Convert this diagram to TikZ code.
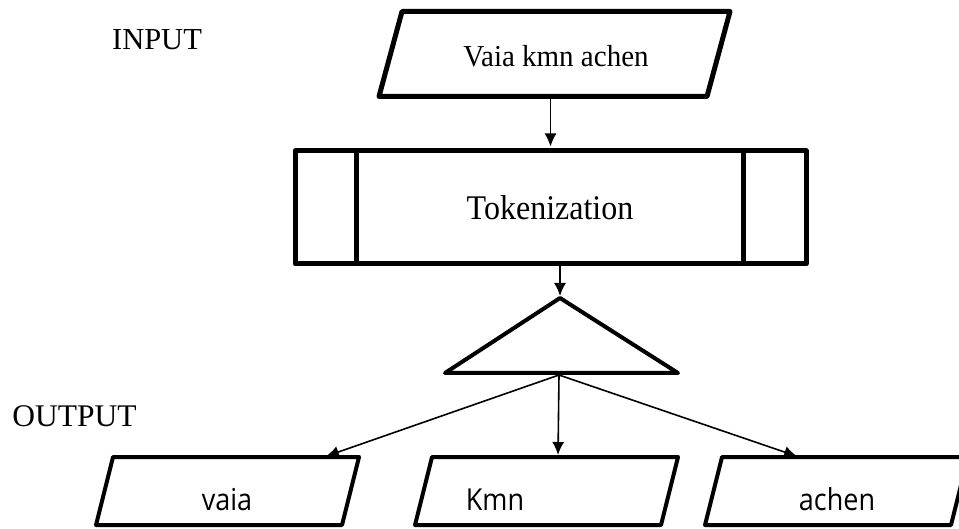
\documentclass[tikz,border=0pt]{standalone}
\usepackage{fontspec}
\setmainfont{Liberation Serif}
\newfontfamily\wordfont{Open Sans}
\usetikzlibrary{arrows.meta}

\begin{document}
\begin{tikzpicture}[x=1pt,y=-1pt]
    \tikzstyle{arrow} = [line width=1.6pt,-{Latex[length=13pt,width=12pt]},shorten >=2pt]
    \tikzstyle{iobox} = [rectangle, inner sep=0pt, outer sep=0pt]
    \tikzstyle{tag} = [inner sep=0pt, anchor=base]
    \tikzstyle{word} = [tag, font=\wordfont\fontsize{27}{32}\selectfont]
    \def\ioshape#1#2#3{\draw[#3, line join=round] ([xshift=#2]#1.north west) -- ([xshift=#2]#1.north east) -- ([xshift=-#2]#1.south east) -- ([xshift=-#2]#1.south west) -- cycle;}
    \useasboundingbox (0,0) rectangle (959,529);

    % input
    \node[iobox, minimum width=328pt, minimum height=85pt] (inp) at (554.5,54) {};
    \ioshape{inp}{11.5pt}{line width=5pt}
    \node[tag, font=\fontsize{29}{34}\selectfont] (inptext) at (556,67) {\scalebox{1}[1.05]{Vaia kmn achen}};
    \node[tag, font=\fontsize{30.5}{36}\selectfont] (intag) at (157,50) {INPUT};

    % process
    \node[draw, line width=5pt, line join=round, minimum width=511pt, minimum height=113pt] (tok) at (550.5,207.5) {};
    \draw[line width=4.5pt] ([xshift=64pt]tok.north west) -- ([xshift=64pt]tok.south west);
    \draw[line width=4.5pt] ([xshift=-65pt]tok.north east) -- ([xshift=-65pt]tok.south east);
    \node[tag, font=\fontsize{32}{38}\selectfont] (toktext) at (550,220) {\scalebox{1}[1.08]{Tokenization}};

    % split
    \coordinate (tritop) at (560,298);
    \coordinate (trileft) at (445,373);
    \coordinate (triright) at (678,373);
    \coordinate (split) at (559,375);
    \draw[line width=4pt, line join=round] (tritop) -- (triright) -- (trileft) -- cycle;

    % output
    \node[tag, font=\fontsize{31.5}{37}\selectfont] (outtag) at (74.5,426) {OUTPUT};
    \node[iobox, minimum width=246pt, minimum height=68pt] (out1) at (227.5,491) {};
    \node[iobox, minimum width=246pt, minimum height=68pt] (out2) at (546.5,491) {};
    \node[iobox, minimum width=246pt, minimum height=68pt] (out3) at (836.5,491) {};
    \ioshape{out1}{8.5pt}{line width=4pt}
    \ioshape{out2}{8.5pt}{line width=4pt}
    \ioshape{out3}{8.5pt}{line width=4pt}
    \node[word] (w1) at (227,510) {\scalebox{1}[1.12]{vaia}};
    \node[word] (w2) at (495,510) {\scalebox{1}[1.12]{Kmn}};
    \node[word] (w3) at (837,510) {\scalebox{1}[1.12]{achen}};

    \draw[arrow] (tok.north |- inp.south) -- (tok.north);
    \draw[arrow] (tritop |- tok.south) -- (tritop);
    \draw[arrow] (split) -- ([xshift=96.5pt]out1.north);
    \draw[arrow] (split) -- ([xshift=11.5pt]out2.north);
    \draw[arrow] (split) -- ([xshift=-37.5pt]out3.north);
\end{tikzpicture}
\end{document}
